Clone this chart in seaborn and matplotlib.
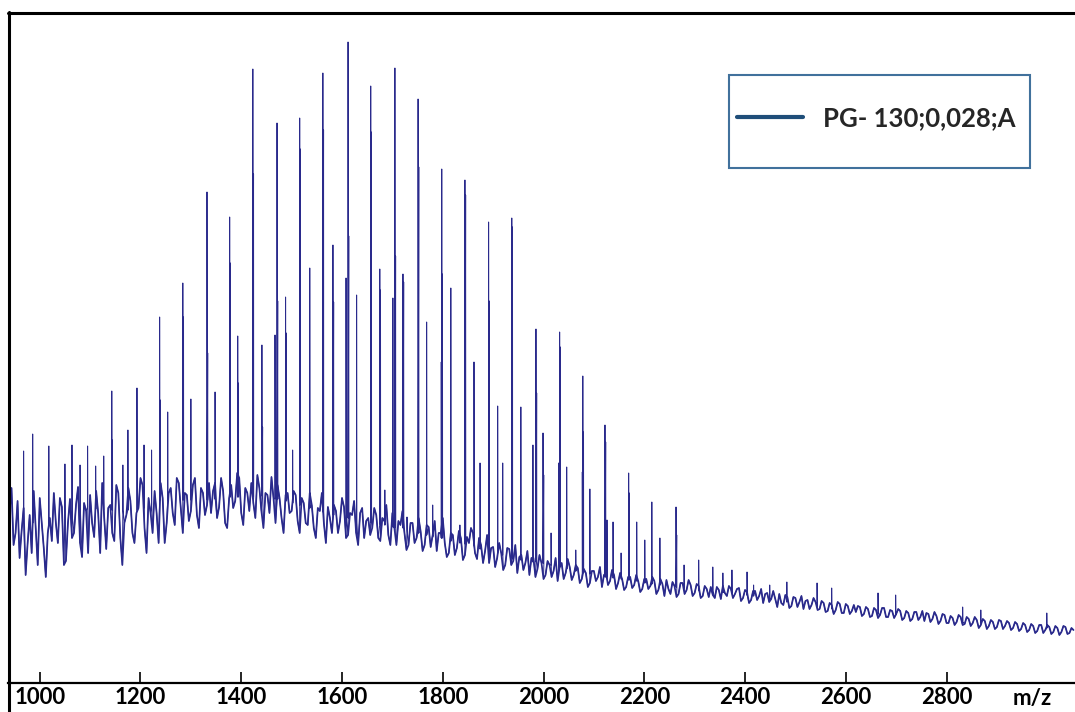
import numpy as np
import pandas as pd
import matplotlib
matplotlib.use("Agg")
import matplotlib.pyplot as plt
from matplotlib.lines import Line2D
from matplotlib.patches import Rectangle
import seaborn as sns

# ---------------- data ----------------
series_label = "PG- 130;0,028;A"
x_label = "m/z"
tick_values = [1000, 1200, 1400, 1600, 1800, 2000, 2200, 2400, 2600, 2800]

# baseline / noise trace: sampled every 4 m/z units starting at 940
mz_start = 940
mz_step = 4
baseline_intensity = [
    170, 195, 138, 150, 182, 125, 152, 175, 108, 140, 168, 130, 192, 155, 118, 185, 160, 135, 106, 150,
    165, 142, 190, 160, 140, 185, 176, 118, 122, 160, 184, 145, 150, 178, 196, 140, 126, 180, 172, 130,
    188, 160, 146, 192, 170, 130, 200, 165, 134, 175, 178, 150, 142, 198, 190, 145, 118, 160, 168, 195,
    182, 150, 140, 170, 175, 205, 198, 155, 130, 185, 170, 150, 192, 170, 140, 200, 185, 140, 160, 190,
    195, 170, 158, 205, 200, 175, 150, 190, 188, 162, 172, 198, 205, 168, 155, 195, 190, 168, 178, 200,
    170, 192, 200, 165, 176, 205, 192, 160, 155, 185, 198, 175, 182, 210, 205, 170, 158, 195, 190, 172,
    200, 180, 165, 208, 195, 172, 155, 190, 188, 170, 206, 185, 160, 198, 185, 165, 150, 188, 190, 170,
    172, 192, 188, 162, 150, 185, 180, 160, 158, 190, 178, 155, 145, 175, 172, 190, 160, 140, 176, 165,
    150, 178, 172, 150, 162, 185, 176, 145, 148, 170, 168, 182, 150, 138, 170, 175, 145, 162, 165, 148,
    155, 175, 168, 145, 142, 165, 162, 178, 148, 138, 170, 155, 138, 162, 158, 172, 150, 133, 138, 160,
    160, 140, 145, 165, 152, 132, 138, 158, 156, 136, 148, 162, 132, 150, 150, 165, 140, 126, 130, 150,
    148, 128, 135, 152, 145, 123, 128, 146, 140, 155, 150, 130, 124, 145, 138, 120, 132, 148, 120, 135,
    136, 116, 125, 140, 130, 113, 118, 135, 134, 118, 122, 138, 110, 126, 128, 113, 120, 132, 108, 125,
    125, 106, 114, 128, 120, 104, 108, 122, 118, 106, 112, 125, 102, 116, 120, 104, 110, 124, 116, 103,
    108, 118, 115, 100, 104, 114, 110, 96, 100, 112, 112, 102, 106, 116, 96, 108, 110, 98, 102, 113,
    108, 94, 100, 110, 104, 93, 96, 106, 106, 95, 98, 108, 102, 91, 94, 104, 104, 94, 97, 106,
    102, 89, 93, 104, 99, 87, 103, 94, 89, 101, 97, 86, 89, 100, 100, 89, 93, 103, 98, 87,
    90, 99, 97, 85, 87, 97, 94, 86, 96, 88, 85, 96, 93, 84, 97, 90, 87, 97, 94, 85,
    89, 94, 95, 82, 85, 93, 91, 80, 83, 92, 92, 83, 87, 94, 80, 89, 90, 81, 84, 92,
    84, 76, 89, 80, 78, 88, 86, 75, 77, 86, 85, 76, 81, 87, 74, 82, 83, 74, 78, 85,
    81, 73, 74, 82, 80, 71, 72, 80, 78, 69, 73, 81, 79, 70, 70, 79, 77, 69, 72, 78,
    71, 77, 76, 67, 69, 76, 74, 66, 67, 75, 73, 65, 68, 75, 75, 66, 66, 73, 72, 65,
    69, 74, 72, 63, 65, 72, 70, 62, 64, 71, 71, 63, 66, 72, 62, 70, 69, 61, 64, 71,
    67, 59, 62, 69, 68, 60, 60, 67, 65, 58, 61, 68, 66, 58, 59, 66, 64, 57, 60, 66,
    63, 55, 58, 64, 62, 54, 57, 63, 61, 54, 56, 63, 62, 54, 57, 62, 60, 53, 55, 61,
    59, 52, 54, 60, 58, 51, 53, 59, 57, 50, 52, 58, 58, 50, 53, 58, 56, 49, 51, 57,
    55, 48, 51, 57, 56, 49, 50, 55, 53,
]

# peaks: position, apex, inner (overlapping) level (0 = none), local foot level
peak_mz = [
    968, 986, 1018, 1050, 1064, 1080, 1095, 1111, 1127, 1143,
    1165, 1175, 1193, 1207, 1222, 1238, 1254, 1284, 1300, 1332,
    1348, 1377, 1393, 1423, 1441, 1467, 1471, 1488, 1502, 1516,
    1536, 1562, 1582, 1608, 1612, 1629, 1657, 1675, 1685, 1701,
    1705, 1721, 1729, 1751, 1768, 1780, 1797, 1798, 1816, 1834,
    1844, 1862, 1874, 1891, 1909, 1919, 1937, 1955, 1979, 1985,
    1999, 2015, 2030, 2032, 2046, 2064, 2077, 2078, 2092, 2122,
    2126, 2138, 2154, 2169, 2185, 2201, 2215, 2231, 2263, 2279,
    2308, 2336, 2356, 2374, 2404, 2417, 2449, 2483, 2543, 2572,
    2664, 2699, 2832, 2868, 2999,
]
peak_top = [
    232, 249, 237, 219, 238, 218, 237, 217, 227, 292,
    218, 253, 295, 238, 233, 366, 271, 400, 284, 491,
    291, 466, 347, 614, 338, 348, 560, 386, 233, 565,
    415, 610, 438, 405, 641, 388, 597, 414, 193, 385,
    615, 409, 166, 584, 361, 178, 321, 514, 395, 158,
    503, 321, 220, 461, 277, 220, 465, 276, 238, 354,
    250, 150, 220, 351, 216, 133, 211, 307, 194, 258,
    163, 161, 130, 210, 161, 143, 181, 145, 176, 118,
    123, 116, 110, 113, 111, 98, 98, 101, 100, 95,
    90, 88, 76, 73, 70,
]
peak_inner = [
    0, 0, 0, 0, 0, 0, 0, 0, 0, 243,
    0, 0, 0, 0, 0, 283, 0, 366, 0, 330,
    0, 420, 300, 509, 256, 0, 382, 350, 0, 534,
    0, 553, 381, 0, 447, 0, 551, 393, 0, 0,
    427, 401, 0, 516, 0, 0, 0, 409, 0, 0,
    488, 0, 0, 382, 0, 0, 456, 0, 0, 290,
    208, 0, 0, 336, 0, 0, 0, 251, 0, 241,
    0, 0, 0, 190, 0, 0, 0, 0, 148, 0,
    0, 0, 0, 0, 0, 0, 0, 0, 0, 0,
    0, 0, 0, 0, 0,
]
peak_foot = [
    161, 160, 159, 163, 168, 178, 176, 174, 173, 173,
    173, 173, 173, 175, 178, 183, 183, 183, 183, 183,
    184, 186, 186, 187, 187, 184, 184, 182, 180, 178,
    175, 171, 168, 165, 165, 163, 161, 159, 158, 156,
    156, 155, 153, 150, 148, 146, 145, 145, 142, 140,
    139, 137, 134, 132, 130, 128, 125, 123, 121, 121,
    120, 118, 116, 116, 114, 112, 110, 110, 109, 106,
    106, 105, 104, 103, 102, 100, 99, 98, 96, 95,
    93, 92, 91, 90, 88, 87, 85, 81, 77, 75,
    70, 68, 61, 60, 55,
]

# ---------------- build the spectrum trace ----------------
base_mz = mz_start + mz_step * np.arange(len(baseline_intensity))
xs, ys = [], []
pi = 0


def add_peak(i):
    m, top, inner, foot = peak_mz[i], peak_top[i], peak_inner[i], peak_foot[i]
    xs.extend([m, m, m + 0.3])
    ys.extend([foot, top, foot])
    if inner > 0:
        xs.extend([m + 1.4, m + 1.7])
        ys.extend([inner, foot])


for m, v in zip(base_mz, baseline_intensity):
    while pi < len(peak_mz) and peak_mz[pi] < m:
        add_peak(pi)
        pi += 1
    xs.append(m)
    ys.append(v)
while pi < len(peak_mz):
    add_peak(pi)
    pi += 1

df = pd.DataFrame({"mz": xs, "intensity": ys})
df_base = pd.DataFrame({"mz": base_mz, "intensity": baseline_intensity})

# ---------------- plot ----------------
sns.set_theme(style="white")
plt.rcParams["font.family"] = ["Lato", "DejaVu Sans"]

W, H = 1075, 712
fig = plt.figure(figsize=(W / 100, H / 100), dpi=100)
ax = fig.add_axes([8 / W, 29 / H, 1 - 8 / W, 671 / H])

trace_color = "#2a2a8c"
# full spectrum (thin strokes for the spikes)
sns.lineplot(data=df, x="mz", y="intensity", sort=False, estimator=None,
             color=trace_color, linewidth=0.7, label=series_label, ax=ax)
# the dense noise band of the same spectrum is rendered a bit heavier
sns.lineplot(data=df_base, x="mz", y="intensity", sort=False, estimator=None,
             color=trace_color, linewidth=1.25, ax=ax, legend=False)

ax.set_xlim(937, 3055)
ax.set_ylim(0, 671)
ax.set_yticks([])
ax.set_ylabel("")
ax.set_xticks(tick_values)
ax.set_xticklabels([str(t) for t in tick_values], fontsize=16, fontweight="bold")
ax.tick_params(axis="x", direction="in", length=8, width=1.2, color="black",
               pad=3, labelcolor="black", bottom=True)
for s in ["left", "right", "top"]:
    ax.spines[s].set_visible(False)
ax.spines["bottom"].set_color("black")
ax.spines["bottom"].set_linewidth(1.6)

ax.set_xlabel(x_label, fontsize=16, fontweight="bold", color="black")
ax.xaxis.set_label_coords((1032 - 8) / (W - 8), -0.0075)
ax.xaxis.label.set_verticalalignment("top")

# outer frame (left and top)
fig.add_artist(Line2D([8.5 / W, 8.5 / W], [0, 1 - 12 / H], transform=fig.transFigure,
                      color="black", linewidth=2.2))
fig.add_artist(Line2D([8 / W, 1], [1 - 12.5 / H, 1 - 12.5 / H], transform=fig.transFigure,
                      color="black", linewidth=2.2))

# legend with a separate frame box
leg = ax.legend(loc="center left", bbox_to_anchor=(737 / W, 1 - 118 / H),
                bbox_transform=fig.transFigure, borderaxespad=0, borderpad=0,
                frameon=False, prop=dict(family="Lato", weight="bold", size=18.5),
                handlelength=2.57, handletextpad=0.78)
for h in leg.get_lines():
    h.set_color("#1f4e79")
    h.set_linewidth(3)
fig.add_artist(Rectangle((729 / W, 1 - 168 / H), 301 / W, 93 / H,
                         transform=fig.transFigure, fill=False,
                         edgecolor="#41719c", linewidth=1.5))

fig.savefig("out.png", dpi=100, facecolor="white")
